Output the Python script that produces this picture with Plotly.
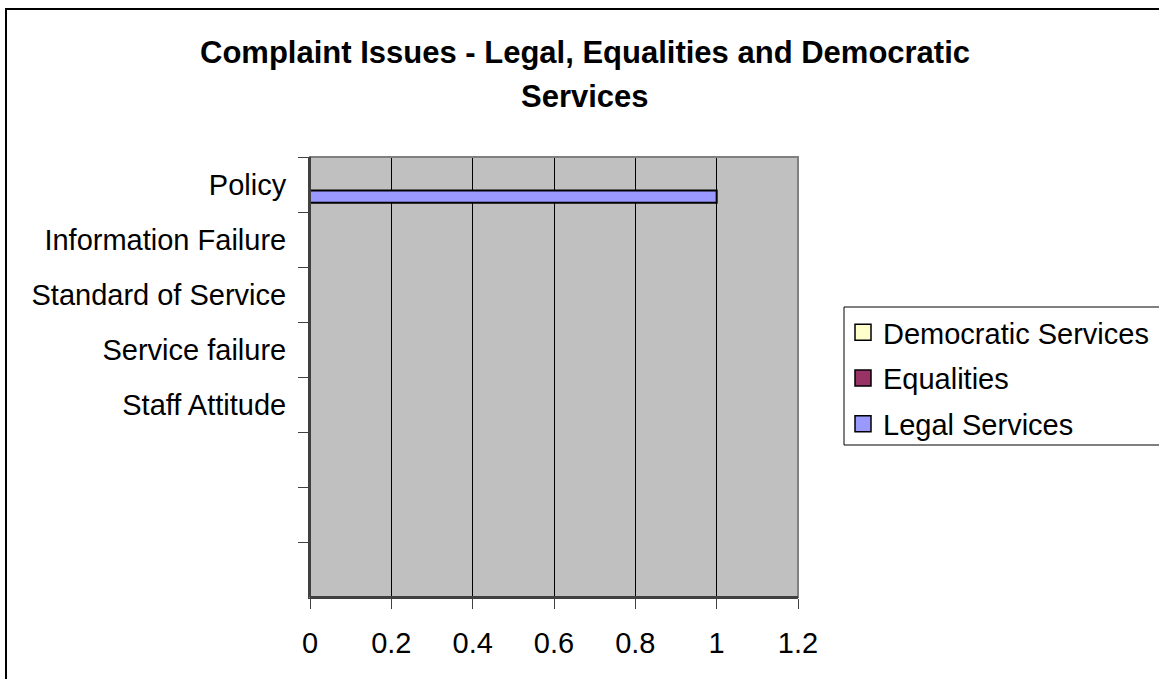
import plotly.graph_objects as go

# Complaint categories (top to bottom); the last three rows are blank
categories = ["Policy", "Information Failure", "Standard of Service",
              "Service failure", "Staff Attitude", " ", "  ", "   "]

# Number of complaints per issue for each service
democratic_services = [None, None, None, None, None, None, None, None]
equalities = [None, None, None, None, None, None, None, None]
legal_services = [1, None, None, None, None, None, None, None]

series_names = ["Democratic Services", "Equalities", "Legal Services"]
series_values = [democratic_services, equalities, legal_services]
series_colors = ["#FFFFCC", "#993366", "#9999FF"]

x_ticks = [0, 0.2, 0.4, 0.6, 0.8, 1.0, 1.2]
x_tick_labels = ["0", "0.2", "0.4", "0.6", "0.8", "1", "1.2"]

FONT = "Liberation Sans, Arial, sans-serif"

fig = go.Figure()

for name, vals, color in zip(series_names, series_values, series_colors):
    fig.add_trace(go.Bar(
        name=name, x=vals, y=categories, orientation="h",
        marker=dict(color=color, line=dict(color="black", width=2)),
        legendgroup=name, showlegend=False,
    ))

# Legend entries with larger square swatches
for name, color in zip(series_names, series_colors):
    fig.add_trace(go.Scatter(
        name=name, x=[None], y=[None], mode="markers",
        marker=dict(symbol="square", size=16, color=color,
                    line=dict(color="black", width=1.5)),
        legendgroup=name, showlegend=True,
    ))

# Plot area geometry in pixels
L, R, T, B = 310, 798, 157, 597
W, H = 1159, 679

def py(ypx):
    return (B - ypx) / (B - T)

def px(xpx):
    return (xpx - L) / (R - L)

fig.update_layout(
    width=W, height=H, autosize=False,
    margin=dict(l=L, r=W - R, t=T, b=H - B, pad=0),
    paper_bgcolor="white",
    plot_bgcolor="#C0C0C0",
    barmode="group",
    bargap=0.333,
    bargroupgap=0,
    font=dict(family=FONT, size=29, color="black"),
    showlegend=True,
    legend=dict(
        xref="container", yref="container",
        x=843 / W, xanchor="left", y=1 - 307 / H, yanchor="top",
        bgcolor="rgba(0,0,0,0)", borderwidth=0,
        font=dict(family=FONT, size=29, color="black"),
        traceorder="grouped", tracegroupgap=5, itemsizing="trace",
    ),
    xaxis=dict(
        range=[0, 1.2], tickmode="array", tickvals=x_ticks, ticktext=x_tick_labels,
        showgrid=True, gridcolor="black", gridwidth=1, zeroline=False,
        showline=True, linecolor="#404040", linewidth=2,
        ticks="outside", ticklen=10, tickcolor="#404040", tickwidth=1,
        ticklabelstandoff=9,
        tickfont=dict(family=FONT, size=29, color="black"),
        fixedrange=True,
    ),
    yaxis=dict(
        type="category", categoryorder="array", categoryarray=categories,
        autorange="reversed", tickson="boundaries",
        showgrid=False, zeroline=False,
        showline=True, linecolor="#404040", linewidth=2,
        ticks="outside", ticklen=10, tickcolor="#404040", tickwidth=1,
        ticklabelstandoff=16,
        tickfont=dict(family=FONT, size=29, color="black"),
        fixedrange=True,
    ),
    annotations=[
        dict(text="<b>Complaint Issues - Legal, Equalities and Democratic</b>",
             xref="paper", yref="paper", x=px(585), y=py(52),
             xanchor="center", yanchor="middle", showarrow=False,
             font=dict(family=FONT, size=31, color="black")),
        dict(text="<b>Services</b>",
             xref="paper", yref="paper", x=px(585), y=py(97),
             xanchor="center", yanchor="middle", showarrow=False,
             font=dict(family=FONT, size=31, color="black")),
    ],
    shapes=[
        # plot-area border (top and right edges in grey)
        dict(type="rect", xref="paper", yref="paper", x0=0, x1=1, y0=0, y1=1,
             line=dict(color="#808080", width=2), layer="above"),
        # legend frame, running off the right edge of the chart area
        dict(type="rect", xref="paper", yref="paper",
             x0=px(844), x1=px(1200), y0=py(445), y1=py(307),
             line=dict(color="black", width=1), fillcolor="white", layer="below"),
        # chart-area frame
        dict(type="rect", xref="paper", yref="paper",
             x0=px(6), x1=px(1300), y0=py(800), y1=py(9),
             line=dict(color="black", width=2), layer="above"),
    ],
)

# redraw the dark left/bottom axis lines above the grey border
fig.add_shape(type="line", xref="paper", yref="paper", x0=0, x1=1, y0=0, y1=0,
              line=dict(color="#404040", width=2), layer="above")
fig.add_shape(type="line", xref="paper", yref="paper", x0=0, x1=0, y0=0, y1=1,
              line=dict(color="#404040", width=2), layer="above")

fig.write_html("out.html", config={"displayModeBar": False})
